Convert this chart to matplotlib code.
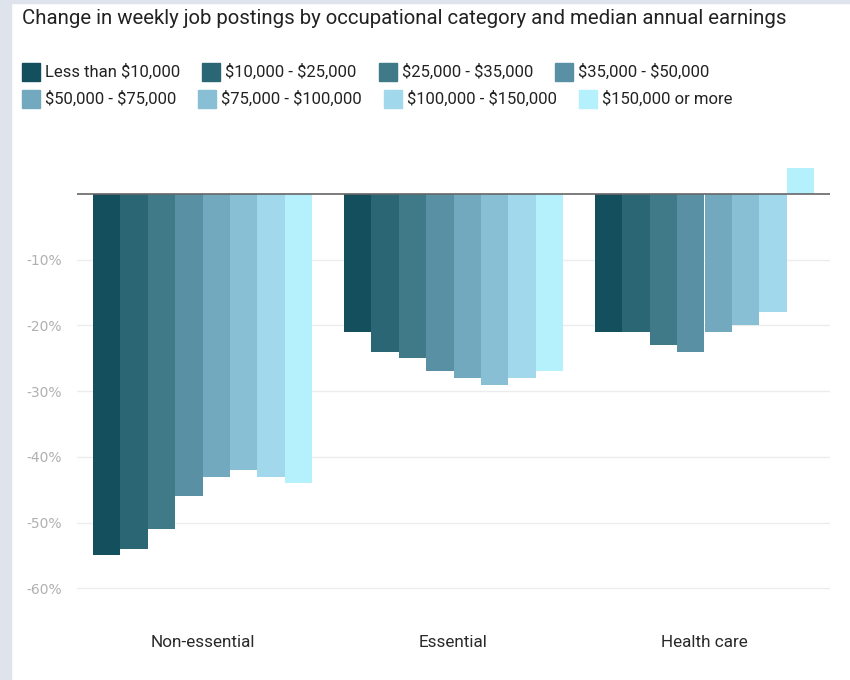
import matplotlib
matplotlib.use("Agg")
import matplotlib.pyplot as plt
import numpy as np
from matplotlib.patches import Rectangle

plt.rcParams['font.family'] = ['Roboto', 'DejaVu Sans']
plt.rcParams['text.parse_math'] = False

categories = ["Non-essential", "Essential", "Health care"]
series = ["Less than $10,000", "$10,000 - $25,000", "$25,000 - $35,000", "$35,000 - $50,000",
          "$50,000 - $75,000", "$75,000 - $100,000", "$100,000 - $150,000", "$150,000 or more"]
values = {
    "Less than $10,000":   [-55, -21, -21],
    "$10,000 - $25,000":   [-54, -24, -21],
    "$25,000 - $35,000":   [-51, -25, -23],
    "$35,000 - $50,000":   [-46, -27, -24],
    "$50,000 - $75,000":   [-43, -28, -21],
    "$75,000 - $100,000":  [-42, -29, -20],
    "$100,000 - $150,000": [-43, -28, -18],
    "$150,000 or more":    [-44, -27, 4],
}
colors = ["#134f5c", "#2a6674", "#407a89", "#5990a4", "#72a9be", "#88bfd5", "#a1d8eb", "#b5f0fd"]
yticks = [-10, -20, -30, -40, -50, -60]

W, H = 850, 680
fig = plt.figure(figsize=(W/100, H/100), dpi=100)
fig.patch.set_facecolor("white")
fig.patches.append(Rectangle((0, 0), 11/W, 1, transform=fig.transFigure, color="#dfe3ec", zorder=0))
fig.patches.append(Rectangle((0, 1-3/H), 1, 3/H, transform=fig.transFigure, color="#dfe3ec", zorder=0))

ylo, yhi = -66, 6
ppu = 6.57
top_px = 194 - yhi*ppu
bot_px = 194 - ylo*ppu
ax = fig.add_axes([77/W, 1 - bot_px/H, 753/W, (bot_px-top_px)/H])

x = np.arange(len(categories))
n = len(series)
gw = 0.873
bw = gw / n
for i, s in enumerate(series):
    ax.bar(x - gw/2 + bw*(i+0.5), values[s], width=bw, color=colors[i], edgecolor="none", zorder=2)

ax.set_xlim(-0.5, 2.5)
ax.set_ylim(ylo, yhi)
ax.set_yticks(yticks)
ax.set_yticklabels([f"{t}%" for t in yticks], fontfamily="DejaVu Sans")
ax.set_xticks(x)
ax.set_xticklabels(categories)
ax.tick_params(axis='y', length=0, pad=11, labelsize=10, labelcolor="#b0b0b0")
ax.tick_params(axis='x', length=0, pad=5, labelsize=12.3, labelcolor="#2a2a2a")
ax.grid(axis='y', color="#ececec", linewidth=1, zorder=0)
ax.axhline(0, color="#666666", linewidth=1.2, zorder=3)
for sp in ax.spines.values():
    sp.set_visible(False)

fig.text(22/W, 1 - 18/H, "Change in weekly job postings by occupational category and median annual earnings",
         fontsize=14.7, color="#222222", va="center", ha="left")

fig.canvas.draw()
renderer = fig.canvas.get_renderer()
rows = [series[:4], series[4:]]
row_y = [72, 99]
for r, items in enumerate(rows):
    xp = 22
    for s in items:
        i = series.index(s)
        y = row_y[r]
        fig.patches.append(Rectangle((xp/W, 1 - (y+9)/H), 18/W, 18/H, transform=fig.transFigure,
                                     color=colors[i], zorder=2))
        t = fig.text((xp+23)/W, 1 - y/H, s, fontsize=12, color="#222222", va="center", ha="left")
        bb = t.get_window_extent(renderer)
        xp = xp + 23 + bb.width + 22

fig.savefig("out.png", dpi=100)
